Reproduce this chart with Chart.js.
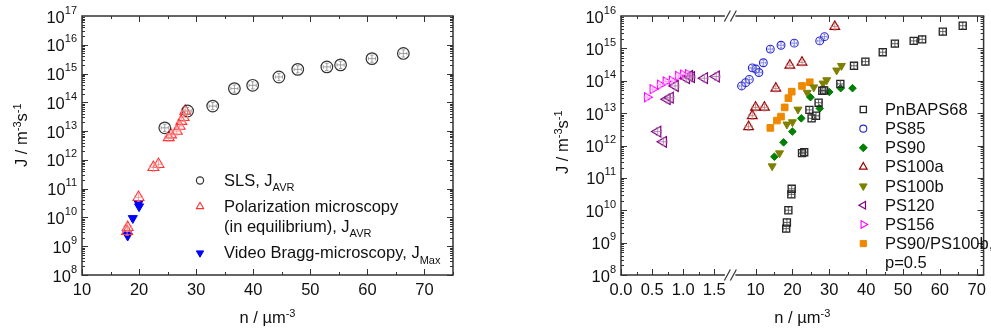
<!DOCTYPE html>
<html><head><meta charset="utf-8">
<script src="https://cdn.jsdelivr.net/npm/chart.js@4/dist/chart.umd.min.js"></script>
<style>
html,body{margin:0;padding:0;background:#fff;}
#wrap{position:relative;width:991px;height:335px;overflow:hidden;background:#fff;}
#c1{position:absolute;left:0;top:0;}
#c2{position:absolute;left:480px;top:0;}
</style></head><body>
<div id="wrap"><canvas id="c1" width="480" height="335"></canvas><canvas id="c2" width="511" height="335"></canvas></div>
<script>
// ---------------- Left chart data ----------------
const slsN = [24.5, 28.5, 32.9, 36.7, 39.9, 44.5, 47.8, 52.9, 55.3, 60.8, 66.3];
const slsJ = [1.3e13, 5.0e13, 7.4e13, 3.0e14, 3.9e14, 7.6e14, 1.4e15, 1.7e15, 2.0e15, 3.3e15, 5.0e15];
const polN = [17.9, 18.0, 19.9, 22.5, 23.4, 25.2, 25.6, 26.6, 27.1, 27.4, 27.8, 28.1];
const polJ = [3.3e9, 4.5e9, 5.0e10, 5.5e11, 7.0e11, 6.0e12, 7.5e12, 1.0e13, 1.5e13, 2.2e13, 3.0e13, 5.0e13];
const vbmN = [17.9, 18.0, 18.9, 19.9, 20.0];
const vbmJ = [2.8e9, 2.3e9, 9.4e9, 3.1e10, 2.4e10];
const leftXTicks = [10, 20, 30, 40, 50, 60, 70];
const leftYExp = [8, 9, 10, 11, 12, 13, 14, 15, 16, 17];

// ---------------- Right chart data ----------------
const pnbapsN = [18.3, 18.5, 18.9, 19.7, 19.8, 22.6, 23.2, 24.6, 25.2, 26.4, 27.1, 28.1, 28.6, 33.0, 36.7, 39.8, 44.5, 47.8, 52.9, 55.2, 60.8, 66.2];
const pnbapsJ = [2.7e9, 4.2e9, 1.0e10, 3.1e10, 4.6e10, 5.8e11, 6.2e11, 1.26e13, 6.9e12, 8.3e12, 2.1e13, 4.9e13, 5.0e13, 8.0e13, 2.9e14, 3.9e14, 7.6e14, 1.4e15, 1.7e15, 1.9e15, 3.3e15, 5.0e15];
const ps85N = [6.2, 7.3, 8.3, 9.1, 10.1, 10.9, 12.1, 14.0, 16.9, 20.5, 27.4, 28.7];
const ps85J = [6.9e13, 8.7e13, 1.1e14, 2.5e14, 2.3e14, 1.8e14, 3.6e14, 9.5e14, 1.25e15, 1.45e15, 1.7e15, 2.3e15];
const ps90N = [15.1, 17.6, 20.0, 22.4, 24.9, 27.4, 30.0, 33.1, 36.3];
const ps90J = [4.5e11, 1.25e12, 2.7e12, 6.9e12, 3.1e13, 1.4e13, 4.5e13, 5.9e13, 5.9e13];
const ps100aN = [8.1, 9.1, 10.0, 12.4, 15.5, 19.3, 22.6, 31.5];
const ps100aJ = [3.8e12, 8.3e12, 1.5e13, 1.5e13, 5.8e13, 3.0e14, 3.7e14, 4.7e15];
const ps100bN = [14.5, 16.5, 18.5, 20.0, 21.5, 24.0, 25.8, 28.3, 29.3, 32.0, 33.3];
const ps100bJ = [2.3e11, 5.8e11, 4.5e12, 5.3e12, 1.3e13, 4.3e13, 6.3e13, 8.3e13, 1.05e14, 2.1e14, 2.9e14];
const ps120N = [0.59, 0.68, 0.74, 0.79, 0.87, 1.05, 1.10, 1.13, 1.34, 1.53];
const ps120J = [2.7e12, 1.3e12, 2.7e13, 3.0e13, 6.9e13, 1.2e14, 1.4e14, 1.3e14, 1.2e14, 1.35e14];
const ps156N = [0.42, 0.51, 0.63, 0.72, 0.82, 0.92, 1.00, 1.08];
const ps156J = [3.1e13, 5.5e13, 7.5e13, 9.5e13, 1.0e14, 1.4e14, 1.55e14, 1.6e14];
const mixN = [14.0, 15.8, 16.9, 17.9, 18.9, 19.8, 22.6, 24.7];
const mixJ = [3.5e12, 5.9e12, 7.8e12, 1.5e13, 2.9e13, 4.6e13, 6.9e13, 9.0e13];
const rightXTicksA = ['0.0', '0.5', '1.0', '1.5'];
const rightXTicksB = [10, 20, 30, 40, 50, 60, 70];
const rightYExp = [8, 9, 10, 11, 12, 13, 14, 15, 16];

// ---------------- helpers ----------------
const FAM = '"Liberation Sans", Arial, Helvetica, sans-serif';
const MAIN = '16.5px ' + FAM;
const SMALL = '11px ' + FAM;
const AXIS = '#333333';
const zip = (xs, ys) => xs.map((x, i) => ({x: x, y: ys[i]}));

function richWidth(ctx, parts) {
  let w = 0;
  for (const p of parts) { ctx.font = p.s ? SMALL : MAIN; w += ctx.measureText(p.t).width; }
  return w;
}
function rich(ctx, parts, x, y, align, supDy, subDy) {
  const w = richWidth(ctx, parts);
  let cx = align === 'right' ? x - w : align === 'center' ? x - w / 2 : x;
  ctx.textAlign = 'left'; ctx.textBaseline = 'alphabetic'; ctx.fillStyle = '#111';
  for (const p of parts) {
    ctx.font = p.s ? SMALL : MAIN;
    const dy = p.s === 'sup' ? supDy : p.s === 'sub' ? subDy : 0;
    ctx.fillText(p.t, cx, y + dy);
    cx += ctx.measureText(p.t).width;
  }
}
function seg(ctx, x1, y1, x2, y2) { ctx.beginPath(); ctx.moveTo(x1, y1); ctx.lineTo(x2, y2); ctx.stroke(); }

function drawLogTicks(ctx, ys, ca, eLo, eHi) {
  ctx.strokeStyle = AXIS; ctx.lineWidth = 1;
  for (let e = eLo; e < eHi; e++) {
    for (let m = 1; m < 10; m++) {
      const py = Math.round(ys.getPixelForValue(m * Math.pow(10, e))) + 0.5;
      const len = m === 1 ? 6 : 3;
      seg(ctx, ca.left, py, ca.left + len, py);
      seg(ctx, ca.right, py, ca.right - len, py);
    }
  }
}
function drawLogLabels(ctx, ys, ca, exps) {
  for (const e of exps) {
    const py = ys.getPixelForValue(Math.pow(10, e));
    rich(ctx, [{t: '10'}, {t: String(e), s: 'sup'}], ca.left - 5, py + 6.5, 'right', -9, 0);
  }
}
function drawXTicks(ctx, xs, ca, from, to, step, majorEvery) {
  ctx.strokeStyle = AXIS; ctx.lineWidth = 1;
  let k = 0;
  for (let v = from; v <= to + 1e-9; v += step, k++) {
    const px = Math.round(xs.getPixelForValue(v)) + 0.5;
    const len = (k % majorEvery === 0) ? 6 : 3;
    seg(ctx, px, ca.bottom, px, ca.bottom - len);
    seg(ctx, px, ca.top, px, ca.top + len);
  }
}
function drawYTitle(ctx, x, y) {
  ctx.save(); ctx.translate(x, y); ctx.rotate(-Math.PI / 2);
  rich(ctx, [{t: 'J / m'}, {t: '-3', s: 'sup'}, {t: 's'}, {t: '-1', s: 'sup'}], 0, 0, 'left', -6.5, 0);
  ctx.restore();
}
function drawXTitle(ctx, x, y) {
  rich(ctx, [{t: 'n / µm'}, {t: '-3', s: 'sup'}], x, y, 'center', -6.5, 0);
}
function legendMarker(ctx, ds, x, y, r) {
  ctx.save();
  ctx.strokeStyle = ds.pointBorderColor; ctx.fillStyle = ds.pointBackgroundColor;
  ctx.lineWidth = ds.pointBorderWidth;
  Chart.helpers.drawPoint(ctx, {pointStyle: ds.pointStyle, rotation: ds.pointRotation || 0, radius: r, borderWidth: ds.pointBorderWidth}, x, y);
  ctx.restore();
}

const errPlugin = {
  id: 'errCross',
  afterDatasetsDraw(chart) {
    const ctx = chart.ctx;
    chart.data.datasets.forEach((ds, i) => {
      if (!ds.errColor) return;
      const meta = chart.getDatasetMeta(i);
      ctx.save(); ctx.strokeStyle = ds.errColor; ctx.lineWidth = 0.8;
      const h = ds.pointRadius * 0.62, c = ds.pointRadius * 0.3;
      meta.data.forEach(pt => {
        const x = pt.x, y = pt.y;
        seg(ctx, x, y - h, x, y + h); seg(ctx, x - c, y - h, x + c, y - h); seg(ctx, x - c, y + h, x + c, y + h);
        seg(ctx, x - h, y, x + h, y); seg(ctx, x - h, y - c, x - h, y + c); seg(ctx, x + h, y - c, x + h, y + c);
      });
      ctx.restore();
    });
  }
};

const hiddenAxis = {grid: {display: false, drawTicks: false}, border: {display: false}, ticks: {display: false}, title: {display: false}};

// ---------------- Left chart ----------------
const leftDatasets = [
  {label: 'SLS', data: zip(slsN, slsJ), pointStyle: 'circle', pointRadius: 5.8, pointBorderColor: '#333333', pointBackgroundColor: 'rgba(0,0,0,0)', pointBorderWidth: 1.2, errColor: '#8a8a8a'},
  {label: 'Polarization microscopy', data: zip(polN, polJ), pointStyle: 'triangle', pointRadius: 6.3, pointBorderColor: '#ff3030', pointBackgroundColor: 'rgba(0,0,0,0)', pointBorderWidth: 1.1, errColor: '#ff8c8c'},
  {label: 'Video Bragg-microscopy', data: zip(vbmN, vbmJ), pointStyle: 'triangle', pointRotation: 180, pointRadius: 5.2, pointBorderColor: '#0000ff', pointBackgroundColor: '#0000ff', pointBorderWidth: 1}
];

const leftPlugin = {
  id: 'leftDeco',
  beforeDatasetsDraw(chart) {
    const ctx = chart.ctx, ca = chart.chartArea;
    ctx.save();
    drawLogTicks(ctx, chart.scales.y, ca, 8, 17);
    drawXTicks(ctx, chart.scales.x, ca, 10, 75, 5, 2);
    ctx.strokeStyle = AXIS; ctx.lineWidth = 1.5;
    ctx.strokeRect(ca.left, ca.top, ca.right - ca.left, ca.bottom - ca.top);
    ctx.restore();
  },
  afterDraw(chart) {
    const ctx = chart.ctx, ca = chart.chartArea;
    ctx.save();
    drawLogLabels(ctx, chart.scales.y, ca, leftYExp);
    ctx.fillStyle = '#111';
    for (const v of leftXTicks) {
      ctx.font = MAIN; ctx.textAlign = 'center'; ctx.textBaseline = 'alphabetic';
      ctx.fillText(String(v), chart.scales.x.getPixelForValue(v), 294.5);
    }
    drawXTitle(ctx, (ca.left + ca.right) / 2, 323);
    drawYTitle(ctx, 27, 167);
    // legend
    const ds = chart.data.datasets;
    legendMarker(ctx, ds[0], 200, 180.5, 3.6);
    rich(ctx, [{t: 'SLS, J'}, {t: 'AVR', s: 'sub'}], 224, 185.5, 'left', -6, 5.5);
    legendMarker(ctx, ds[1], 200, 206.5, 4.2);
    rich(ctx, [{t: 'Polarization microscopy'}], 224, 211.7, 'left', -6, 5.5);
    rich(ctx, [{t: '(in equilibrium), J'}, {t: 'AVR', s: 'sub'}], 224, 231.5, 'left', -6, 5.5);
    legendMarker(ctx, ds[2], 200, 253, 4.2);
    rich(ctx, [{t: 'Video Bragg-microscopy, J'}, {t: 'Max', s: 'sub'}], 224, 258.3, 'left', -6, 5.5);
    ctx.restore();
  }
};

new Chart(document.getElementById('c1'), {
  type: 'scatter',
  data: {datasets: leftDatasets},
  options: {
    responsive: false, animation: false, events: [],
    layout: {padding: {left: 82, right: 27, top: 16, bottom: 60}},
    plugins: {legend: {display: false}, tooltip: {enabled: false}},
    scales: {
      x: Object.assign({type: 'linear', axis: 'x', position: 'bottom', min: 10, max: 75}, hiddenAxis),
      y: Object.assign({type: 'logarithmic', axis: 'y', position: 'left', min: 1e8, max: 1e17}, hiddenAxis)
    }
  },
  plugins: [leftPlugin, errPlugin]
});

// ---------------- Right chart ----------------
const OX = 480;
const rightDatasets = [
  {label: 'PnBAPS68', xAxisID: 'xb', data: zip(pnbapsN, pnbapsJ), pointStyle: 'rect', pointRadius: 5.0, pointBorderColor: '#222222', pointBackgroundColor: 'rgba(0,0,0,0)', pointBorderWidth: 1.3, errColor: '#444444'},
  {label: 'PS85', xAxisID: 'xb', data: zip(ps85N, ps85J), pointStyle: 'circle', pointRadius: 3.9, pointBorderColor: '#2828d0', pointBackgroundColor: 'rgba(0,0,0,0)', pointBorderWidth: 1.1, errColor: '#7a7ae0'},
  {label: 'PS90', xAxisID: 'xb', data: zip(ps90N, ps90J), pointStyle: 'rectRot', pointRadius: 3.8, pointBorderColor: '#008000', pointBackgroundColor: '#008000', pointBorderWidth: 1},
  {label: 'PS100a', xAxisID: 'xb', data: zip(ps100aN, ps100aJ), pointStyle: 'triangle', pointRadius: 5.6, pointBorderColor: '#990000', pointBackgroundColor: 'rgba(0,0,0,0)', pointBorderWidth: 1.2, errColor: '#c07070'},
  {label: 'PS100b', xAxisID: 'xb', data: zip(ps100bN, ps100bJ), pointStyle: 'triangle', pointRotation: 180, pointRadius: 4.6, pointBorderColor: '#808000', pointBackgroundColor: '#808000', pointBorderWidth: 1},
  {label: 'PS120', xAxisID: 'xa', data: zip(ps120N, ps120J), pointStyle: 'triangle', pointRotation: 270, pointRadius: 6.2, pointBorderColor: '#800080', pointBackgroundColor: 'rgba(0,0,0,0)', pointBorderWidth: 1.2, errColor: '#b070b0'},
  {label: 'PS156', xAxisID: 'xa', data: zip(ps156N, ps156J), pointStyle: 'triangle', pointRotation: 90, pointRadius: 5.2, pointBorderColor: '#ff00ff', pointBackgroundColor: 'rgba(0,0,0,0)', pointBorderWidth: 1.1, errColor: '#ff90ff'},
  {label: 'PS90/PS100b, p=0.5', xAxisID: 'xb', data: zip(mixN, mixJ), pointStyle: 'rect', pointRadius: 4.7, pointBorderColor: '#ee8800', pointBackgroundColor: '#ee8800', pointBorderWidth: 1}
];
const rightLegend = ['PnBAPS68', 'PS85', 'PS90', 'PS100a', 'PS100b', 'PS120', 'PS156', 'PS90/PS100b,'];

const rightPlugin = {
  id: 'rightDeco',
  beforeDatasetsDraw(chart) {
    const ctx = chart.ctx, ca = chart.chartArea;
    const xa = chart.scales.xa, xb = chart.scales.xb;
    ctx.save();
    drawLogTicks(ctx, chart.scales.y, ca, 8, 16);
    drawXTicks(ctx, xa, ca, 0, 1.5, 0.25, 2);
    drawXTicks(ctx, xb, ca, 10, 70, 5, 2);
    ctx.strokeStyle = AXIS; ctx.lineWidth = 1.5;
    const bx = xa.right;
    // left & right borders
    seg(ctx, ca.left, ca.top, ca.left, ca.bottom);
    seg(ctx, ca.right, ca.top, ca.right, ca.bottom);
    // top & bottom borders with break
    for (const yy of [ca.top, ca.bottom]) {
      seg(ctx, ca.left - 0.75, yy, bx - 5.5, yy);
      seg(ctx, bx + 5, yy, ca.right + 0.75, yy);
      ctx.lineWidth = 1.2;
      seg(ctx, bx - 6, yy + 5.5, bx, yy - 5.5);
      seg(ctx, bx, yy + 5.5, bx + 6, yy - 5.5);
      ctx.lineWidth = 1.5;
    }
    ctx.restore();
  },
  afterDraw(chart) {
    const ctx = chart.ctx, ca = chart.chartArea;
    const xa = chart.scales.xa, xb = chart.scales.xb;
    ctx.save();
    drawLogLabels(ctx, chart.scales.y, ca, rightYExp);
    ctx.fillStyle = '#111'; ctx.font = MAIN; ctx.textAlign = 'center'; ctx.textBaseline = 'alphabetic';
    for (const t of rightXTicksA) ctx.fillText(t, xa.getPixelForValue(parseFloat(t)), 294.5);
    for (const v of rightXTicksB) ctx.fillText(String(v), xb.getPixelForValue(v), 294.5);
    drawXTitle(ctx, (ca.left + ca.right) / 2, 323);
    drawYTitle(ctx, 568 - OX, 174);
    // legend
    const ds = chart.data.datasets;
    const base0 = 115, step = 19.15;
    rightLegend.forEach((t, i) => {
      const yb = base0 + i * step;
      const d = ds[i];
      const r = d.pointStyle === 'rect' ? 4.4 : d.pointStyle === 'circle' ? 3.5 : d.pointStyle === 'rectRot' ? 4 : 4.4;
      legendMarker(ctx, d, 863.3 - OX, yb - 5.5, r);
      rich(ctx, [{t: t}], 885 - OX, yb, 'left', -6, 5.5);
    });
    rich(ctx, [{t: 'p=0.5'}], 885 - OX, base0 + 8 * step, 'left', -6, 5.5);
    ctx.restore();
  }
};

new Chart(document.getElementById('c2'), {
  type: 'scatter',
  data: {datasets: rightDatasets},
  options: {
    responsive: false, animation: false, events: [],
    layout: {padding: {left: 621 - OX, right: 2, top: 16, bottom: 60}},
    plugins: {legend: {display: false}, tooltip: {enabled: false}},
    scales: {
      xa: Object.assign({type: 'linear', axis: 'x', position: 'bottom', stack: 'nx', stackWeight: 111, min: 0, max: 1.758}, hiddenAxis),
      xb: Object.assign({type: 'linear', axis: 'x', position: 'bottom', stack: 'nx', stackWeight: 257, min: 3.16, max: 71.87}, hiddenAxis),
      y: Object.assign({type: 'logarithmic', axis: 'y', position: 'left', min: 1e8, max: 1e16}, hiddenAxis)
    }
  },
  plugins: [rightPlugin, errPlugin]
});
</script>
</body></html>
